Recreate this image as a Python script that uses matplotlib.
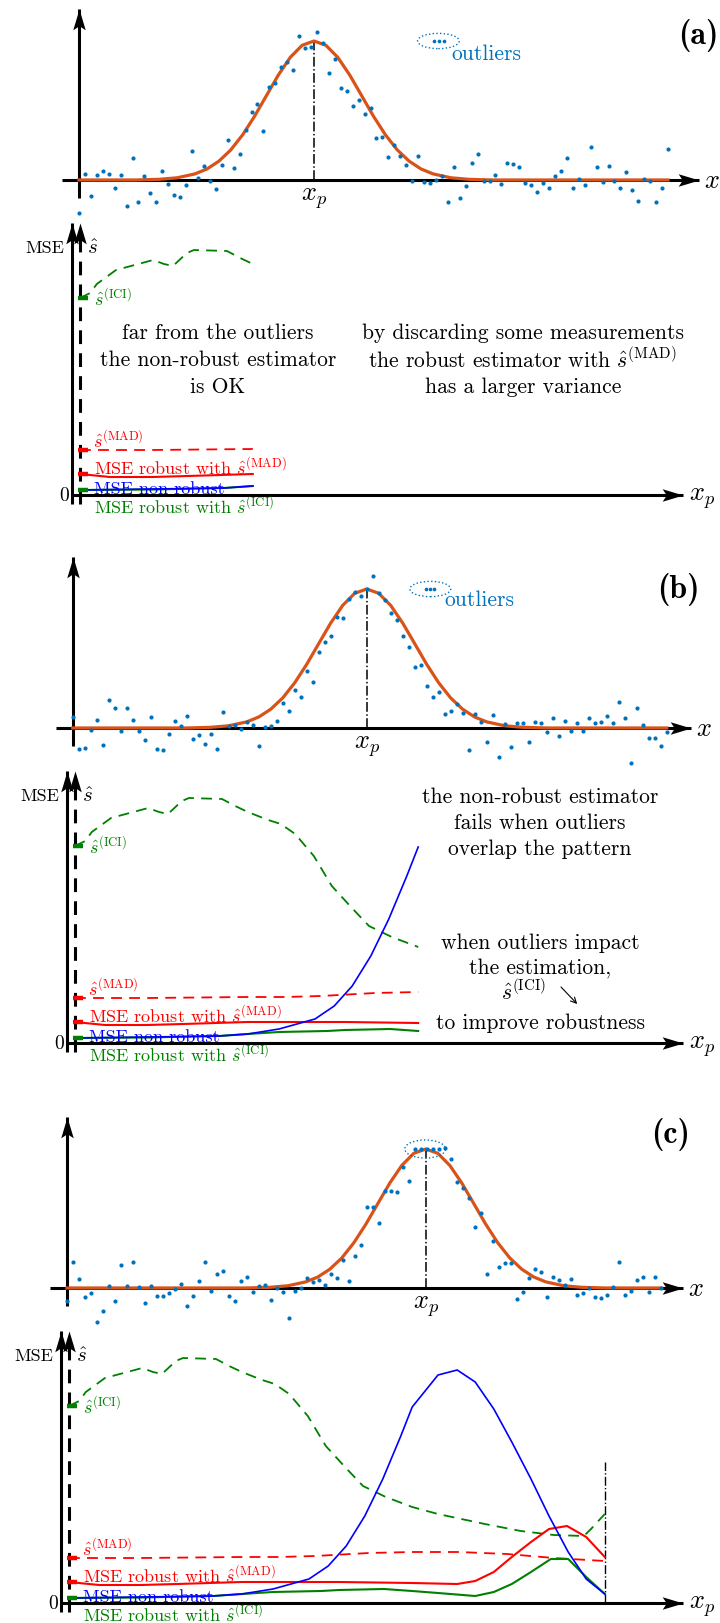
import numpy as np
import matplotlib.pyplot as plt
from matplotlib.patches import Ellipse
from matplotlib.path import Path

plt.rcParams["mathtext.fontset"] = "cm"
plt.rcParams["font.family"] = "cmr10"
plt.rcParams["axes.unicode_minus"] = False

# =========================
# DATA - top row (samples, amplitude relative to pattern peak)
# =========================
samples_a = [
    -0.24, 0.045, -0.114, 0.033, 0.062, 0.045, -0.055, 0.033, -0.19, 0.155,
    -0.16, 0.029, -0.09, -0.16, 0.062, -0.031, -0.11, -0.121, -0.036, 0.207,
    0.012, 0.10, -0.007, -0.067, 0.107, 0.288, 0.088, 0.19, 0.36, 0.486,
    0.545, 0.355, 0.671, 0.695, 0.81, 0.852, 0.79, 1.033, 0.95, 0.957,
    1.062, 0.986, 0.767, 0.874, 0.66, 0.643, 0.529, 0.576, 0.474, 0.521,
    0.302, 0.312, 0.164, 0.252, 0.171, 0.107, -0.007, 0.171, -0.014, -0.02,
    0.0, 0.03, -0.157, 0.093, -0.133, -0.043, 0.121, 0.186, -0.007, -0.007,
    0.033, -0.031, 0.119, 0.112, 0.095, -0.019, -0.033, -0.086, -0.019, -0.055,
    0.026, 0.064, 0.157, -0.055, 0.01, -0.033, 0.236, 0.093, -0.012, 0.102,
    -0.007, -0.055, 0.057, -0.071, -0.15, 0.01, -0.01, -0.157, -0.057, 0.221,
]
samples_b = [
    0.079, -0.151, -0.144, -0.017, 0.058, -0.12, 0.204, 0.144, -0.019, 0.144,
    0.06, -0.022, -0.086, 0.082, -0.151, -0.161, -0.041, 0.048, 0.014, 0.084,
    -0.077, -0.05, -0.118, -0.046, -0.149, 0.113, 0.017, 0.022, -0.007, 0.043,
    0.02, -0.13, 0.007, 0.014, 0.05, 0.18, 0.12, 0.27, 0.22, 0.41,
    0.33, 0.55, 0.62, 0.66, 0.80, 0.79, 0.93, 0.98, 0.95, 1.00,
    1.09, 0.97, 0.92, 0.83, 0.78, 0.66, 0.58, 0.44, 0.45, 0.30,
    0.22, 0.26, 0.10, 0.12, 0.17, 0.108, -0.158, 0.10, 0.043, -0.10,
    0.094, -0.209, 0.029, -0.137, 0.036, 0.036, -0.10, 0.043, 0.036, -0.029,
    0.072, -0.058, 0.05, -0.02, 0.036, -0.02, 0.072, 0.036, 0.043, 0.086,
    0.036, 0.187, 0.072, -0.25, 0.144, 0.02, -0.07, -0.07, -0.13, -0.03,
]
samples_c = [
    -0.094, 0.187, 0.065, -0.065, -0.036, -0.245, -0.166, 0.014, -0.094, 0.166,
    0.014, 0.187, 0.007, -0.108, 0.014, -0.058, -0.058, -0.036, -0.01, 0.029,
    -0.13, -0.058, 0.05, 0.187, -0.022, 0.10, 0.122, -0.058, -0.094, 0.05,
    0.079, -0.029, 0.014, 0.022, -0.086, 0.0, -0.029, -0.216, -0.022, 0.0,
    0.072, 0.043, 0.058, 0.022, 0.10, 0.072, 0.20, 0.05, 0.23, 0.31,
    0.58, 0.58, 0.47, 0.70, 0.70, 0.69, 0.87, 0.77, 1.0, 1.0,
    1.0, 1.0, 1.0, 1.01, 0.93, 0.76, 0.72, 0.65, 0.44, 0.54,
    0.10, 0.34, 0.15, 0.18, 0.18, -0.08, -0.03, 0.07, 0.14, 0.115,
    -0.065, 0.08, 0.06, 0.02, 0.065, -0.05, -0.036, 0.0, -0.065, -0.072,
    -0.05, 0.007, 0.19, -0.05, -0.022, 0.058, 0.079, -0.029, 0.079, 0.0,
]

# pattern position x_p (in samples) for each panel
centre_a, centre_b, centre_c = 39.5, 49.0, 59.8

# half profile of the pattern (offset in samples, relative height)
profile_dx = [0, 2, 4, 6, 8, 10, 12, 14, 16, 18, 20, 23, 26, 30]
profile_h = [1.0, 0.969, 0.882, 0.755, 0.607, 0.458, 0.325, 0.216, 0.135,
             0.079, 0.044, 0.016, 0.005, 0.0]

# outlier symbols next to the "outliers" note
outliers_a_x = [59.6, 60.5, 61.4]
outliers_b_x = [58.9, 59.6, 60.3]
outlier_level = 1.0

# =========================
# DATA - bottom row (criteria vs x_p)
# =========================
sici_x = [0, 1.7, 2.8, 6, 12.2, 14, 15.5, 17.8, 19, 24.5, 26.7, 28.8, 32.2,
          34.3, 36.7, 39.8, 42.8, 46, 49, 52.8, 57.2, 61.5, 69.3, 75.3, 80.8,
          85.8, 87, 89.3]
sici_y = [19.7, 20.2, 21.1, 22.5, 23.5, 23.1, 22.9, 24.2, 24.5, 24.4, 23.7,
          23.1, 22.3, 21.9, 20.9, 18.7, 15.7, 13.6, 11.7, 10.6, 9.6, 8.9, 7.9,
          7.2, 6.8, 6.7, 7.4, 8.9]

smad_x = [0, 12, 28.8, 35, 41, 50, 57.2, 65, 73, 80.8, 89.3]
smad_y = [4.5, 4.5, 4.6, 4.6, 4.7, 5.0, 5.1, 5.1, 4.9, 4.5, 4.2]

mse_mad_x = [0, 5, 12, 18, 28.8, 34, 45, 57.2, 64.7, 67.7, 70.8, 73.8, 77,
             80, 83, 86.2, 89.3]
mse_mad_y = [2.1, 1.8, 1.8, 1.9, 2.1, 2.1, 2.1, 2.0, 1.9, 2.2, 3.1, 4.6, 6.1,
             7.4, 7.7, 6.6, 4.6]

mse_nr_x = [0, 12, 24, 28.8, 34, 37, 40, 43.2, 46.2, 49.3, 52.3, 55.3, 57.2,
            61.5, 64.7, 67.7, 70.8, 73.8, 77, 80, 83.2, 86.2, 89.3]
mse_nr_y = [0.5, 0.6, 0.7, 0.9, 1.4, 1.9, 2.4, 3.7, 5.7, 8.7, 12.4, 16.7, 19.6,
            22.8, 23.3, 22.1, 19.4, 16.1, 12.4, 8.7, 5.1, 2.4, 0.9]

mse_ici_x = [0, 12, 24, 28.8, 34, 42, 45, 52.5, 57.2, 61.5, 67.7, 70.8, 73.8,
             77, 80.3, 83.2, 86.2, 89.3]
mse_ici_y = [0.5, 0.55, 0.7, 0.9, 1.1, 1.2, 1.3, 1.4, 1.2, 1.0, 0.7, 1.1, 1.9,
             3.1, 4.4, 4.4, 2.6, 0.9]

xp_end_a, xp_end_b, xp_end_c = 28.8, 57.2, 89.3

# =========================
# STYLE
# =========================
W, H = 720, 1624
DOT = "#0072BD"
ORANGE = "#D95319"
GREEN = "#008000"
RED = "#FF0000"
BLUE = "#0000FF"
FS_TXT = 15.5
FS_LAB = 13

codes = [Path.MOVETO, Path.LINETO, Path.LINETO, Path.LINETO, Path.CLOSEPOLY]
HEAD_R = Path([(0, 0), (-1, 0.3), (-0.8, 0), (-1, -0.3), (0, 0)], codes)
HEAD_U = Path([(0, 0), (0.3, -1), (0, -0.8), (-0.3, -1), (0, 0)], codes)

fig = plt.figure(figsize=(W / 100, H / 100), dpi=100)
fig.patch.set_facecolor("white")


def make_ax(x0, y0, sx, sy):
    # full-figure axes, origin at pixel (x0, y0), sx/sy pixels per unit
    ax = fig.add_axes([0, 0, 1, 1])
    ax.set_xlim(-x0 / sx, (W - x0) / sx)
    ax.set_ylim((y0 - H) / sy, y0 / sy)
    ax.set_axis_off()
    ax.patch.set_alpha(0)
    return ax


def arrow_line(ax, xs, ys, head, ls="-"):
    ax.plot(xs, ys, color="k", lw=2.2, ls=ls, solid_capstyle="butt", zorder=2)
    ax.plot(xs[-1], ys[-1], marker=head, ms=30, color="k", mew=0, ls="none", zorder=2)


def draw_top(ax, samples, centre, x_tip, tag, tag_xy, outl_x=None, ell_xy=None, ell_w=7.0, ell_h=0.11, note_xy=None):
    arrow_line(ax, [0, 0], [-0.13, 1.23], HEAD_U)
    arrow_line(ax, [-2.8, x_tip], [0, 0], HEAD_R)
    ax.text(x_tip + 0.8, 0, "$x$", fontsize=19, va="center", ha="left")

    dx = np.array(profile_dx, dtype=float)
    h = np.array(profile_h)
    px = np.concatenate([[0], centre - dx[::-1], centre + dx[1:], [99]])
    py = np.concatenate([[0], h[::-1], h[1:], [0]])
    ax.plot(px, py, color=ORANGE, lw=2.3, zorder=3)

    ax.scatter(np.arange(len(samples)), samples, s=9, color=DOT, lw=0, zorder=4)

    ax.plot([centre, centre], [0, 1.0], color="k", lw=1.1, ls="-.", zorder=2)
    ax.text(centre, -0.035, "$x_p$", fontsize=19, ha="center", va="top")

    if ell_xy is not None:
        ax.add_patch(Ellipse(ell_xy, ell_w, ell_h, fill=False, ec=DOT, lw=1.0, ls=":", zorder=4))
    if outl_x is not None:
        ax.scatter(outl_x, [outlier_level] * len(outl_x), s=7, color=DOT, lw=0, zorder=4)
    if note_xy is not None:
        ax.text(note_xy[0], note_xy[1], "outliers", color=DOT, fontsize=FS_TXT, ha="left", va="baseline")

    ax.text(tag_xy[0], tag_xy[1], tag, family="cmb10", fontsize=23, ha="right", va="center")


def upto(xs, ys, end):
    xs = np.asarray(xs)
    ys = np.asarray(ys)
    keep = xs <= end + 1e-9
    return xs[keep], ys[keep]


def draw_bottom(ax, end, x_tip):
    tip = 27.2
    arrow_line(ax, [-1.33, -1.33], [-0.9, tip], HEAD_U)
    ax.plot([0, 0], [-0.9, tip - 1.2], color="k", lw=2.2, ls=(0, (4.5, 3)), zorder=2)
    ax.plot(0, tip, marker=HEAD_U, ms=30, color="k", mew=0, ls="none", zorder=2)
    arrow_line(ax, [-1.33, x_tip], [0, 0], HEAD_R)

    ax.text(-2.6, tip - 2.4, "MSE", fontsize=FS_LAB, ha="right", va="center")
    ax.text(1.2, tip - 2.5, r"$\hat{s}$", fontsize=15, ha="left", va="center")
    ax.text(-1.9, 0, "0", fontsize=14, ha="right", va="center")
    ax.text(x_tip + 1.0, -0.3, "$x_p$", fontsize=19, ha="left", va="center")

    x, y = upto(sici_x, sici_y, end)
    ax.plot(x, y, color=GREEN, lw=1.3, ls=(0, (6, 4)), zorder=3)
    x, y = upto(smad_x, smad_y, end)
    ax.plot(x, y, color=RED, lw=1.3, ls=(0, (6, 4)), zorder=3)
    x, y = upto(mse_mad_x, mse_mad_y, end)
    ax.plot(x, y, color=RED, lw=1.5, zorder=3)
    x, y = upto(mse_ici_x, mse_ici_y, end)
    ax.plot(x, y, color=GREEN, lw=1.5, zorder=3)
    x, y = upto(mse_nr_x, mse_nr_y, end)
    ax.plot(x, y, color=BLUE, lw=1.2, zorder=3)

    # start marks of each curve
    for y0, col in [(sici_y[0], GREEN), (smad_y[0], RED), (mse_mad_y[0], RED), (mse_ici_y[0], GREEN)]:
        ax.plot([-0.4, 1.3], [y0, y0], color=col, lw=3.2, solid_capstyle="butt", zorder=3)

    ax.text(2.3, 19.1, r"$\hat{s}^{(\mathrm{ICI})}$", color=GREEN, fontsize=FS_LAB, ha="left", va="baseline")
    ax.text(2.2, 4.9, r"$\hat{s}^{(\mathrm{MAD})}$", color=RED, fontsize=FS_LAB, ha="left", va="baseline")
    ax.text(2.4, 2.2, r"MSE robust with $\hat{s}^{(\mathrm{MAD})}$", color=RED, fontsize=FS_LAB, ha="left", va="baseline")
    ax.text(2.4, 0.2, "MSE non robust", color=BLUE, fontsize=FS_LAB, ha="left", va="baseline")
    ax.text(2.4, -1.75, r"MSE robust with $\hat{s}^{(\mathrm{ICI})}$", color=GREEN, fontsize=FS_LAB, ha="left", va="baseline")


def block(ax, x, ys, lines):
    for y, s in zip(ys, lines):
        ax.text(x, y, s, fontsize=FS_TXT, ha="center", va="center")


# =========================
# PANEL (a)
# =========================
ax = make_ax(79, 181, 5.95, 139)
draw_top(ax, samples_a, centre_a, 104.2, "(a)", (107.4, 1.05), outl_x=outliers_a_x,
         ell_xy=(60.4, 1.0), ell_w=7.0, ell_h=0.11, note_xy=(62.6, 0.87))

ax = make_ax(80, 496, 6, 10)
draw_bottom(ax, xp_end_a, 100.5)
block(ax, 23.0, [16.3, 13.6, 10.9],
      ["far from the outliers", "the non-robust estimator", "is OK"])
block(ax, 73.8, [16.3, 13.6, 10.9],
      ["by discarding some measurements",
       r"the robust estimator with $\hat{s}^{(\mathrm{MAD})}$",
       "has a larger variance"])

# =========================
# PANEL (b)
# =========================
ax = make_ax(72.7, 729, 6, 139)
draw_top(ax, samples_b, centre_b, 103.0, "(b)", (104.5, 1.0), outl_x=outliers_b_x,
         ell_xy=(59.6, 1.0), ell_w=6.8, ell_h=0.11, note_xy=(62.0, 0.885))

ax = make_ax(75, 1044, 6, 10)
draw_bottom(ax, xp_end_b, 101.3)
block(ax, 77.5, [24.7, 22.1, 19.5],
      ["the non-robust estimator", "fails when outliers", "overlap the pattern"])
block(ax, 77.5, [10.1, 7.6, 2.1],
      ["when outliers impact", "the estimation,", "to improve robustness"])
ax.text(74.8, 5.2, r"$\hat{s}^{(\mathrm{ICI})}$", fontsize=FS_TXT, ha="center", va="center")
ax.annotate("", xy=(83.7, 3.9), xytext=(81.0, 5.6),
            arrowprops=dict(arrowstyle="->", lw=0.8, color="k", shrinkA=0, shrinkB=0))

# =========================
# PANEL (c)
# =========================
ax = make_ax(67, 1289, 6, 139)
draw_top(ax, samples_c, centre_c, 102.7, "(c)", (103.8, 1.11),
         ell_xy=(59.7, 1.0), ell_w=6.8, ell_h=0.13)

ax = make_ax(69, 1604, 6, 10)
draw_bottom(ax, xp_end_c, 102.3)
ax.plot([xp_end_c, xp_end_c], [0, 14.1], color="k", lw=1.0, ls="-.", zorder=2)

fig.savefig("out.png", dpi=100, facecolor="white")
